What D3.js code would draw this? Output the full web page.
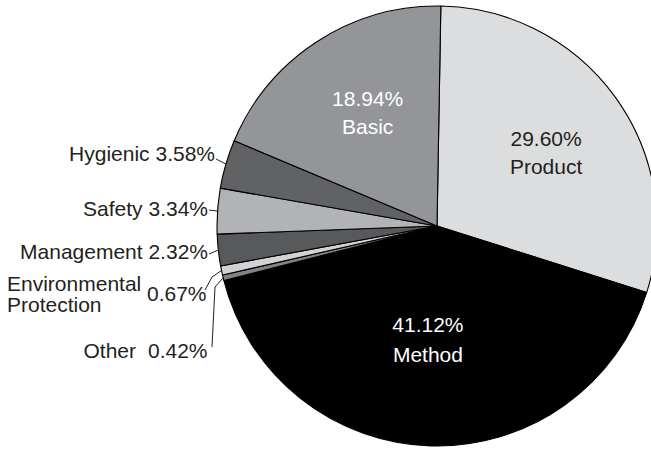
<!DOCTYPE html>
<html>
<head>
<meta charset="utf-8">
<script src="https://cdn.jsdelivr.net/npm/d3@7"></script>
<style>
  html, body { margin: 0; padding: 0; background: #fff; }
  svg { display: block; }
  text { font-family: "Liberation Sans", Arial, Helvetica, sans-serif; }
</style>
</head>
<body>
<svg id="chart" width="651" height="449"></svg>
<script>
// Share of each category (percent), in clockwise order from the top
const categories = ["Product", "Method", "Other", "Environmental Protection", "Management", "Safety", "Hygienic", "Basic"];
const values = [29.60, 41.12, 0.42, 0.67, 2.32, 3.34, 3.58, 18.94];
const percentLabels = ["29.60%", "41.12%", "0.42%", "0.67%", "2.32%", "3.34%", "3.58%", "18.94%"];

const fills = {
  "Product": "#dcdddf",
  "Method": "#000000",
  "Other": "#808285",
  "Environmental Protection": "#d1d2d4",
  "Management": "#58595b",
  "Safety": "#b1b3b6",
  "Hygienic": "#616264",
  "Basic": "#939598"
};

const cx = 437, cy = 226, R = 220;
const ink = "#231f20";
const fontSize = 21;

const svg = d3.select("#chart");
const g = svg.append("g").attr("transform", `translate(${cx},${cy})`);

const deg = Math.PI / 180;
const pie = d3.pie().sort(null).value(d => d.value)
  .startAngle(1 * deg).endAngle(361 * deg);
const data = categories.map((c, i) => ({ name: c, value: values[i], label: percentLabels[i] }));
const arcs = pie(data);

const arc = d3.arc().innerRadius(0).outerRadius(R);

g.selectAll("path.slice")
  .data(arcs)
  .join("path")
  .attr("class", "slice")
  .attr("d", arc)
  .attr("fill", d => fills[d.data.name])
  .attr("stroke", "#000")
  .attr("stroke-width", 1.1)
  .attr("stroke-linejoin", "round");

// Labels placed inside the three large slices
const inner = {
  "Product": { r: 127, dx: 6, dy: -2.6, gap: 28, color: ink },
  "Method": { r: 111, dx: -6, dy: -1.8, gap: 30, color: "#ffffff" },
  "Basic": { r: 127, dx: 0, dy: -10.4, gap: 28, color: "#ffffff" }
};
const labelArc = d3.arc();
arcs.filter(d => inner[d.data.name]).forEach(d => {
  const o = inner[d.data.name];
  const [x, y] = labelArc.innerRadius(o.r).outerRadius(o.r).centroid(d);
  const t = g.append("text")
    .attr("x", x + o.dx)
    .attr("y", y + o.dy)
    .attr("text-anchor", "middle")
    .attr("fill", o.color)
    .style("font-size", fontSize + "px");
  t.append("tspan").attr("x", x + o.dx).attr("dy", "-0.15em").text(d.data.label);
  t.append("tspan").attr("x", x + o.dx).attr("dy", o.gap).text(d.data.name);
});

// Labels for the small slices, set out to the left with leader lines
const edgePoint = d => {
  const a = (d.startAngle + d.endAngle) / 2;
  return [cx + R * Math.sin(a), cy - R * Math.cos(a)];
};
const byName = Object.fromEntries(arcs.map(d => [d.data.name, d]));

const outer = svg.append("g")
  .attr("fill", ink)
  .style("font-size", fontSize + "px");
const leaders = svg.append("g")
  .attr("fill", "none")
  .attr("stroke", ink)
  .attr("stroke-width", 1);

function sideLabel(name, textX, baseY, lineStart) {
  const d = byName[name];
  outer.append("text")
    .attr("x", textX).attr("y", baseY)
    .attr("text-anchor", "end")
    .text(`${name} ${d.data.label}`);
  leaders.append("path")
    .attr("d", d3.line()([lineStart, edgePoint(d)]));
}
sideLabel("Hygienic", 215, 161, [216, 159]);
sideLabel("Safety", 208, 216, [209, 210]);
sideLabel("Management", 208, 259, [209, 254]);

// Environmental Protection: two-line name with the value beside it
{
  const d = byName["Environmental Protection"];
  const t = outer.append("text").attr("x", 7).attr("y", 291);
  t.append("tspan").attr("x", 7).text("Environmental");
  t.append("tspan").attr("x", 7).attr("dy", 21).text("Protection");
  outer.append("text").attr("x", 147).attr("y", 301).text(d.data.label);
  leaders.append("path")
    .attr("d", d3.line()([[205, 290], [212, 277], edgePoint(d)]));
}

// Other
{
  const d = byName["Other"];
  outer.append("text").attr("x", 136).attr("y", 358).attr("text-anchor", "end").text("Other");
  outer.append("text").attr("x", 148).attr("y", 358).text(d.data.label);
  leaders.append("path")
    .attr("d", d3.line()([[212, 347], [215, 287], edgePoint(d)]));
}
</script>
</body>
</html>
